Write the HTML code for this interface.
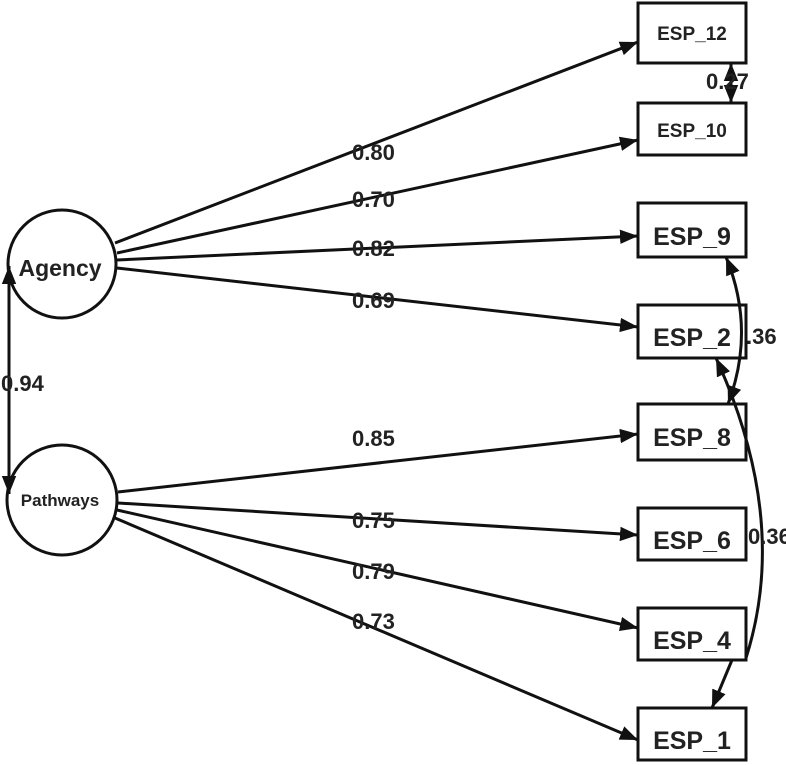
<!DOCTYPE html>
<html><head><style>body{margin:0;background:#fff}svg{display:block}text{font-family:"Liberation Sans",Arial,sans-serif;font-weight:bold;fill:#222}</style></head>
<body>
<svg width="786" height="765" viewBox="0 0 786 765" xmlns="http://www.w3.org/2000/svg">
<defs><marker id="a" viewBox="0 0 10 10" refX="10" refY="5" markerWidth="6" markerHeight="6" orient="auto-start-reverse"><path d="M0,1 L10,5 L0,9 z" fill="#111"/></marker></defs>
<g stroke="#111" stroke-width="3" fill="none">
<circle cx="62" cy="264" r="54"/>
<circle cx="62" cy="500" r="55"/>
<rect x="638" y="3" width="108" height="60"/>
<rect x="638" y="103" width="108" height="52"/>
<rect x="638" y="203" width="108" height="54"/>
<rect x="638" y="305" width="108" height="53"/>
<rect x="638" y="404" width="108" height="56"/>
<rect x="638" y="508" width="108" height="52"/>
<rect x="638" y="608" width="108" height="52"/>
<rect x="638" y="708" width="108" height="52"/>
<g marker-end="url(#a)">
<line x1="115" y1="243" x2="638" y2="42"/>
<line x1="117" y1="253" x2="638" y2="140"/>
<line x1="117" y1="260" x2="638" y2="236"/>
<line x1="117" y1="268" x2="638" y2="327"/>
<line x1="118" y1="492" x2="638" y2="434"/>
<line x1="118" y1="503" x2="638" y2="535"/>
<line x1="117" y1="510" x2="638" y2="628"/>
<line x1="115" y1="518" x2="638" y2="740"/>
<line x1="732" y1="660" x2="712" y2="708"/>
</g>
<line x1="9" y1="266" x2="9" y2="494" marker-start="url(#a)" marker-end="url(#a)"/>
<line x1="731" y1="63" x2="731" y2="103" marker-start="url(#a)" marker-end="url(#a)"/>
<path d="M728,404 Q756,330 726,257" marker-start="url(#a)" marker-end="url(#a)"/>
<path d="M746,658 Q790,520 716,358" marker-end="url(#a)"/>
</g>
<g font-size="22">
<text x="352" y="160">0.80</text>
<text x="352" y="207">0.70</text>
<text x="352" y="256">0.82</text>
<text x="352" y="308">0.69</text>
<text x="352" y="446">0.85</text>
<text x="352" y="528">0.75</text>
<text x="352" y="579">0.79</text>
<text x="352" y="629">0.73</text>
<text x="1" y="391">0.94</text>
<text x="706" y="89">0.27</text>
<text x="746" y="344">.36</text>
<text x="748" y="544">0.36</text>
</g>
<g font-size="25" text-anchor="middle">
<text x="60" y="276" font-size="23">Agency</text>
<text x="692" y="245">ESP_9</text>
<text x="692" y="346">ESP_2</text>
<text x="692" y="446">ESP_8</text>
<text x="692" y="549">ESP_6</text>
<text x="692" y="649">ESP_4</text>
<text x="692" y="749">ESP_1</text>
</g>
<g font-size="19" text-anchor="middle">
<text x="60" y="506" font-size="17">Pathways</text>
<text x="692" y="40">ESP_12</text>
<text x="692" y="137">ESP_10</text>
</g>
</svg>
</body></html>
